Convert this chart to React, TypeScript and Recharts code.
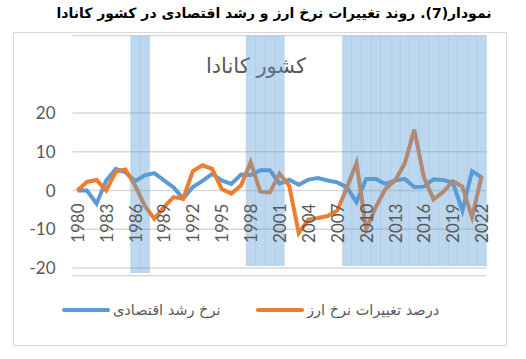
import React from 'react';
import { ComposedChart, Line, Bar, XAxis, YAxis, CartesianGrid } from 'recharts';

// categories
const years = [
  1980, 1981, 1982, 1983, 1984, 1985, 1986, 1987, 1988, 1989,
  1990, 1991, 1992, 1993, 1994, 1995, 1996, 1997, 1998, 1999,
  2000, 2001, 2002, 2003, 2004, 2005, 2006, 2007, 2008, 2009,
  2010, 2011, 2012, 2013, 2014, 2015, 2016, 2017, 2018, 2019,
  2020, 2021, 2022,
];

// نرخ رشد اقتصادی
const growth = [
  0, 0, -3.4, 2.6, 5.6, 4.7, 2.4, 3.9, 4.5, 2.6,
  0.8, -2.1, 0.9, 2.5, 4.3, 2.6, 1.7, 4.1, 4.0, 5.2,
  5.2, 1.8, 2.8, 1.5, 2.8, 3.2, 2.6, 2.1, 0.8, -3.0,
  3.0, 3.0, 1.7, 2.6, 3.0, 0.9, 1.0, 2.9, 2.7, 2.0,
  -5.2, 5.0, 3.4,
];

// درصد تغییرات نرخ ارز
const exchange = [
  0, 2.2, 2.7, 0, 4.9, 5.4, 1.3, -3.9, -7.3, -4.3,
  -1.7, -2.1, 5.0, 6.5, 5.6, 0.4, -0.8, 1.3, 7.3, -0.3,
  -0.5, 4.3, 1.3, -11.0, -7.5, -7.1, -6.6, -5.2, 0.8, 7.1,
  -9.9, -4.3, 0.4, 2.6, 6.9, 15.7, 3.4, -2.3, -0.4, 2.4,
  1.0, -6.9, 3.8,
];

// shaded periods
const shadeStart = [1986, 1998, 2008];
const shadeEnd = [1987, 2001, 2022];
const shadeBottom = [-21.3, -19.5, -19.5];
const shadeTop = 40;

const yTicks = [-20, -10, 0, 10, 20];
const yDomain = [-22, 40];

const seriesNames = ['نرخ رشد اقتصادی', 'درصد تغییرات نرخ ارز'];
const seriesColors = ['#5B9BD5', '#ED7D31'];

const data = years.map((year, i) => {
  const k = shadeStart.findIndex((s, j) => year >= s && year <= shadeEnd[j]);
  return {
    year,
    growth: growth[i],
    exchange: exchange[i],
    shade: k >= 0 ? [shadeBottom[k], shadeTop] : null,
  };
});

const W = 526;
const H = 359;
const TOP = 35.5;
const BOTTOM = 83.25;
const PLOT_H = H - TOP - BOTTOM;
const ZERO_Y = TOP + (PLOT_H * (yDomain[1] - 0)) / (yDomain[1] - yDomain[0]);

const AXIS_FONT = 'Lato, "Open Sans", sans-serif';
const FA_FONT = '"DejaVu Sans", sans-serif';

// legend entry positions (sample left edge)
const legendLeft = [62, 256];

function YearTick(props: any) {
  const { x, payload } = props;
  return (
    <text
      x={x}
      y={ZERO_Y + 13}
      transform={`rotate(-90, ${x}, ${ZERO_Y + 13})`}
      textAnchor="end"
      dominantBaseline="central"
      fontSize={17}
      fontFamily={AXIS_FONT}
      fill="#595959"
    >
      {payload.value}
    </text>
  );
}

export default function App() {
  return (
    <div style={{ position: 'absolute', left: 0, top: 0, width: W, height: H, background: '#fff' }}>
      <div
        style={{
          position: 'absolute', left: 24, top: 5, width: 500, textAlign: 'center', whiteSpace: 'nowrap',
          fontFamily: FA_FONT, fontWeight: 'bold', fontSize: 14, color: '#000', direction: 'rtl',
        }}
      >
        نمودار(7). روند تغییرات نرخ ارز و رشد اقتصادی در کشور کانادا
      </div>
      <div
        style={{
          position: 'absolute', left: 13, top: 32, width: 492, height: 312,
          border: '1.5px solid #D9D9D9',
        }}
      />
      <div
        style={{
          position: 'absolute', left: 156, top: 54, width: 200, textAlign: 'center',
          fontFamily: FA_FONT, fontSize: 21, color: '#595959', direction: 'rtl',
        }}
      >
        کشور کانادا
      </div>
      <div style={{ position: 'absolute', left: 0, top: 0 }}>
        <ComposedChart
          width={W}
          height={H}
          data={data}
          margin={{ top: TOP, right: 39.5, bottom: 0, left: 0 }}
          barCategoryGap={0}
          barGap={0}
        >
          <CartesianGrid vertical={false} stroke="#D9D9D9" strokeWidth={1.5} />
          <XAxis
            dataKey="year"
            height={BOTTOM}
            interval={2}
            axisLine={false}
            tickLine={false}
            tick={<YearTick />}
          />
          <YAxis
            domain={yDomain}
            ticks={yTicks}
            allowDataOverflow
            width={72.5}
            axisLine={false}
            tickLine={false}
            tickSize={0}
            tickMargin={17}
            tick={{ fontSize: 17, fontFamily: AXIS_FONT, fill: '#595959' }}
          />
          <Line
            dataKey="growth"
            name={seriesNames[0]}
            stroke={seriesColors[0]}
            strokeWidth={4}
            dot={false}
            isAnimationActive={false}
          />
          <Line
            dataKey="exchange"
            name={seriesNames[1]}
            stroke={seriesColors[1]}
            strokeWidth={4}
            dot={false}
            isAnimationActive={false}
          />
          <Bar
            dataKey="shade"
            fill="#5B9BD5"
            fillOpacity={0.4}
            legendType="none"
            zIndex={450}
            isAnimationActive={false}
          />
        </ComposedChart>
      </div>
      {seriesNames.map((name, i) => (
        <div
          key={name}
          style={{
            position: 'absolute', left: legendLeft[i], top: 302, display: 'flex', alignItems: 'center',
            whiteSpace: 'nowrap', fontFamily: FA_FONT, fontSize: 14.5, color: '#595959',
          }}
        >
          <span
            style={{
              display: 'inline-block', width: 48, height: 4, borderRadius: 2,
              background: seriesColors[i], marginRight: 3,
            }}
          />
          <span style={{ direction: 'rtl' }}>{name}</span>
        </div>
      ))}
    </div>
  );
}
